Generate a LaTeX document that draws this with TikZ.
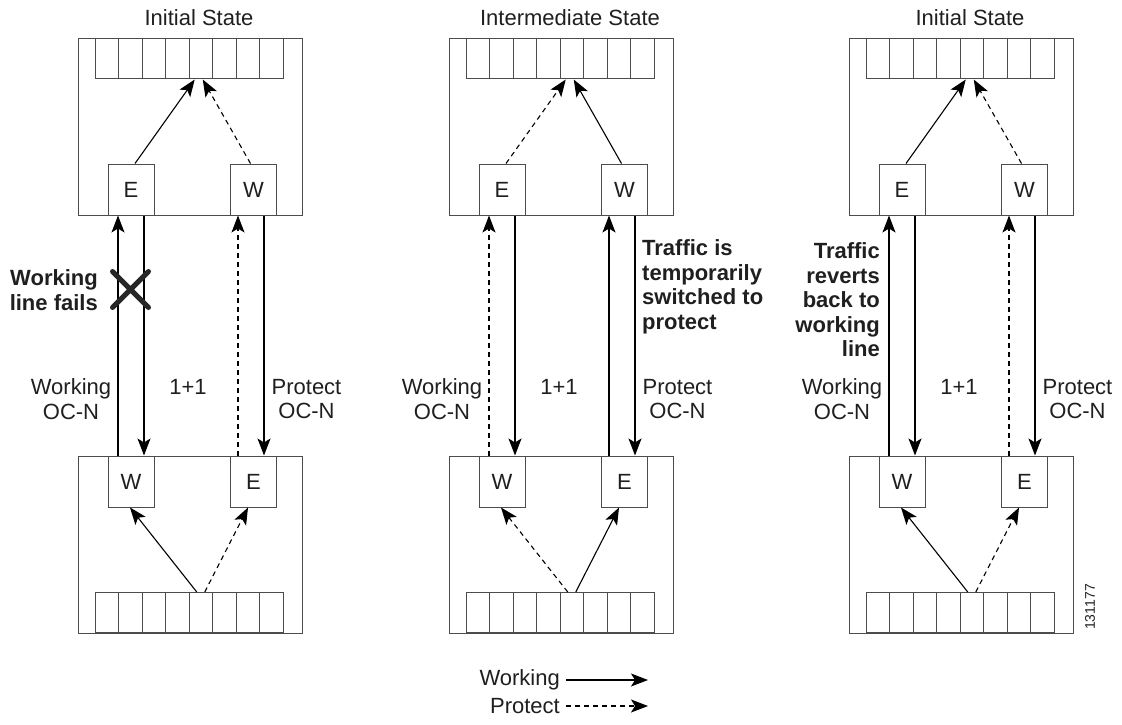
\documentclass[tikz,border=0pt]{standalone}
\usepackage{fontspec}
\setmainfont{Liberation Sans}
\usetikzlibrary{arrows.meta}

\begin{document}
\begin{tikzpicture}[x = 1pt, y = -1pt,
                    font = \fontsize{22}{24.5}\selectfont,
                    text = black!88]
\tikzset{frame/.style = {draw = black!70, line width = 1pt, inner sep = 0pt},
         box/.style = {frame, minimum width = 46pt, minimum height = 51pt},
         cell/.style = {frame, minimum width = 23.5pt, minimum height = 40pt},
         work/.style = {line width = 1.1pt, -{Stealth[length = 17pt, width = 13pt, inset = 4pt]}},
         prot/.style = {work, dash pattern = on 5pt off 4pt},
         note/.style = {font = \fontsize{22}{24.5}\selectfont\bfseries, inner sep = 0pt}}
\useasboundingbox (0,0) rectangle (1122,725);
% the three panels
\foreach \p/\dx/\title in {1/0/Initial State, 2/371/Intermediate State, 3/771/Initial State} {
  \node (t\p) at (199+\dx, 18) {\title};
  \node[frame, minimum width = 224pt, minimum height = 176pt] (top\p) at (190+\dx, 127) {};
  \node[frame, minimum width = 224pt, minimum height = 177pt] (bot\p) at (190+\dx, 544.5) {};
  \foreach \i in {1,...,8} {
    \node[cell] (rt\p-\i) at (106.75+\dx+23.5*\i-23.5, 59) {};
    \node[cell] (rb\p-\i) at (106.75+\dx+23.5*\i-23.5, 612.5) {};
  }
  \node[box] (te\p) at (131+\dx, 189.5) {E};
  \node[box] (tw\p) at (253.5+\dx, 189.5) {W};
  \node[box] (bw\p) at (131+\dx, 481.5) {W};
  \node[box] (be\p) at (253.5+\dx, 481.5) {E};
  \node[align = center] (lw\p) at (71+\dx, 399) {Working\\OC-N};
  \node (ll\p) at (188+\dx, 387) {1+1};
  \node[align = center] (lp\p) at (306.5+\dx, 399) {Protect\\OC-N};
}
% panel 1
\draw[work] ([xshift = 4pt]te1.north) -- ([xshift = -6pt]rt1-5.south);
\draw[prot] ([xshift = -3pt]tw1.north) -- ([xshift = 2pt]rt1-5.south);
\draw[work] ([xshift = -13pt]bw1.north) -- ([xshift = -13pt]te1.south);
\draw[work] ([xshift = 13pt]te1.south) -- ([xshift = 13pt]bw1.north);
\draw[prot] ([xshift = -15.5pt]be1.north) -- ([xshift = -15.5pt]tw1.south);
\draw[work] ([xshift = 10.5pt]tw1.south) -- ([xshift = 10.5pt]be1.north);
\draw[work] ([xshift = -4pt]rb1-5.north) -- ([xshift = -1pt]bw1.south);
\draw[prot] ([xshift = 4pt]rb1-5.north) -- ([xshift = -5.5pt]be1.south);
\coordinate (fail) at (130.5, 289.5);
\draw[line width = 5pt, line cap = round, black!85]
  ([shift = {(-18,-18)}]fail) -- ([shift = {(18,18)}]fail)
  ([shift = {(-18,18)}]fail) -- ([shift = {(18,-18)}]fail);
\node[note, align = right, anchor = east] (n1) at (98, 290) {Working\\line fails};
% panel 2
\draw[prot] ([xshift = 4pt]te2.north) -- ([xshift = -6pt]rt2-5.south);
\draw[work] ([xshift = -3pt]tw2.north) -- ([xshift = 2pt]rt2-5.south);
\draw[prot] ([xshift = -13pt]bw2.north) -- ([xshift = -13pt]te2.south);
\draw[work] ([xshift = 13pt]te2.south) -- ([xshift = 13pt]bw2.north);
\draw[work] ([xshift = -15.5pt]be2.north) -- ([xshift = -15.5pt]tw2.south);
\draw[work] ([xshift = 10.5pt]tw2.south) -- ([xshift = 10.5pt]be2.north);
\draw[prot] ([xshift = -4pt]rb2-5.north) -- ([xshift = -1pt]bw2.south);
\draw[work] ([xshift = 4pt]rb2-5.north) -- ([xshift = -5.5pt]be2.south);
\node[note, align = left, anchor = west] (n2) at (642, 287) {Traffic is\\temporarily\\switched to\\protect};
% panel 3
\draw[work] ([xshift = 4pt]te3.north) -- ([xshift = -6pt]rt3-5.south);
\draw[prot] ([xshift = -3pt]tw3.north) -- ([xshift = 2pt]rt3-5.south);
\draw[work] ([xshift = -13pt]bw3.north) -- ([xshift = -13pt]te3.south);
\draw[work] ([xshift = 13pt]te3.south) -- ([xshift = 13pt]bw3.north);
\draw[prot] ([xshift = -15.5pt]be3.north) -- ([xshift = -15.5pt]tw3.south);
\draw[work] ([xshift = 10.5pt]tw3.south) -- ([xshift = 10.5pt]be3.north);
\draw[work] ([xshift = -4pt]rb3-5.north) -- ([xshift = -1pt]bw3.south);
\draw[prot] ([xshift = 4pt]rb3-5.north) -- ([xshift = -5.5pt]be3.south);
\node[note, align = right, anchor = east] (n3) at (880, 300) {Traffic\\reverts\\back to\\working\\line};
% legend
\node[anchor = east, inner sep = 0pt] (kw) at (560, 680) {Working};
\node[anchor = east, inner sep = 0pt] (kp) at (560, 706) {Protect};
\coordinate (kwe) at (648, 680);
\coordinate (kpe) at (648, 706);
\draw[work] ([xshift = 6pt]kw.east) -- (kwe);
\draw[prot] ([xshift = 6pt]kp.east) -- (kpe);
\node[rotate = 90, font = \fontsize{14}{14}\selectfont] (id) at (1090, 607) {131177};
\end{tikzpicture}
\end{document}
